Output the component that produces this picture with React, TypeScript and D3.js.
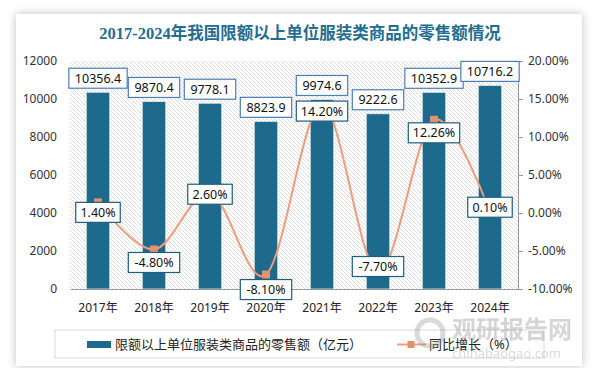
import React, { useEffect, useRef } from 'react';
import * as d3 from 'd3';

const years = ['2017年', '2018年', '2019年', '2020年', '2021年', '2022年', '2023年', '2024年'];
const sales = [10356.4, 9870.4, 9778.1, 8823.9, 9974.6, 9222.6, 10352.9, 10716.2];
const growth = [1.4, -4.8, 2.6, -8.1, 14.2, -7.7, 12.26, 0.1];
const leftTicks = [0, 2000, 4000, 6000, 8000, 10000, 12000];
const rightTicks = [-10, -5, 0, 5, 10, 15, 20];

const title = '2017-2024年我国限额以上单位服装类商品的零售额情况';
const barName = '限额以上单位服装类商品的零售额（亿元）';
const lineName = '同比增长（%）';

// label offsets (px) for percent labels, relative to the marker
const pctDy = [10, 13, 1, 15, 6, -5, 13, -5];

const W = 596;
const H = 368;
const m = { left: 70, right: 518, top: 61, bottom: 289 };
const barColor = '#1d6a8c';
const lineColor = '#ee9d7c';
const font = '"Noto Sans", "Noto Sans CJK SC", sans-serif';

function App() {
  const svgRef = useRef<SVGSVGElement>(null);

  useEffect(() => {
    const svg = d3.select(svgRef.current);
    svg.selectAll('*').remove();

    const defs = svg.append('defs');
    const f = defs.append('filter').attr('id', 'shadow').attr('x', -0.1).attr('y', -0.1).attr('width', 1.2).attr('height', 1.2);
    f.append('feDropShadow').attr('dx', 0).attr('dy', 0).attr('stdDeviation', 5).attr('flood-color', '#000').attr('flood-opacity', 0.25);
    const pat = defs.append('pattern').attr('id', 'hatch').attr('patternUnits', 'userSpaceOnUse')
      .attr('width', 4).attr('height', 4);
    pat.append('rect').attr('width', 4).attr('height', 4).attr('fill', '#fff');
    pat.append('path').attr('d', 'M-1,-1 L5,5 M-1,3 L1,5 M3,-1 L5,1').attr('stroke', '#d6d6d6').attr('stroke-width', 0.8);

    // card
    svg.append('rect').attr('x', 16).attr('y', 14).attr('width', 566).attr('height', 352)
      .attr('fill', '#fff').attr('filter', 'url(#shadow)');

    svg.append('text').attr('x', 300).attr('y', 39).attr('text-anchor', 'middle')
      .attr('font-family', '"Liberation Serif", "Noto Sans CJK SC", serif').attr('font-weight', 'bold')
      .attr('font-size', 16.5).attr('fill', '#236d90').text(title);

    const x = d3.scaleBand().domain(years).range([m.left, m.right]).paddingInner(0.58).paddingOuter(0.29);
    const yL = d3.scaleLinear().domain([0, 12000]).range([m.bottom, m.top]);
    const yR = d3.scaleLinear().domain([-10, 20]).range([m.bottom, m.top]);

    svg.append('rect').attr('x', m.left).attr('y', m.top).attr('width', m.right - m.left)
      .attr('height', m.bottom - m.top).attr('fill', 'url(#hatch)');

    // left axis
    const gl = svg.append('g').attr('transform', `translate(${m.left},0)`)
      .call(d3.axisLeft(yL).tickValues(leftTicks).tickSize(0).tickPadding(13).tickFormat(d3.format('d')));
    gl.select('.domain').remove();
    gl.selectAll('text').attr('font-family', font).attr('font-size', 12).attr('fill', '#333');

    // right axis
    const gr = svg.append('g').attr('transform', `translate(${m.right},0)`)
      .call(d3.axisRight(yR).tickValues(rightTicks).tickSize(5).tickPadding(5)
        .tickFormat(d => (d as number).toFixed(2) + '%'));
    gr.select('.domain').attr('stroke', '#999');
    gr.selectAll('line').attr('stroke', '#999');
    gr.selectAll('text').attr('font-family', font).attr('font-size', 12).attr('fill', '#333');

    // bars
    svg.append('g').selectAll('rect').data(sales).join('rect')
      .attr('x', (d, i) => x(years[i])!)
      .attr('y', d => yL(d))
      .attr('width', x.bandwidth())
      .attr('height', d => m.bottom - yL(d))
      .attr('fill', barColor).attr('stroke', '#e8eef2').attr('stroke-width', 0.8);

    // bottom axis
    const gb = svg.append('g').attr('transform', `translate(0,${m.bottom})`)
      .call(d3.axisBottom(x).tickSize(0).tickPadding(14));
    gb.select('.domain').attr('stroke', '#999');
    gb.selectAll('text').attr('font-family', font).attr('font-size', 12).attr('fill', '#222');

    const cx = (i: number) => x(years[i])! + x.bandwidth() / 2;

    // line
    const ln = d3.line<number>().x((d, i) => cx(i)).y(d => yR(d)).curve(d3.curveCatmullRom.alpha(0));
    svg.append('path').datum(growth).attr('d', ln).attr('fill', 'none')
      .attr('stroke', lineColor).attr('stroke-width', 2);
    svg.append('g').selectAll('rect').data(growth).join('rect')
      .attr('x', (d, i) => cx(i) - 4).attr('y', d => yR(d) - 4)
      .attr('width', 8).attr('height', 8).attr('fill', '#de9270');

    const box = (g: d3.Selection<SVGGElement, unknown, null, undefined>, tx: number, ty: number, txt: string, stroke: string) => {
      const w = txt.length * 6.9 + 10;
      g.append('rect').attr('x', tx - w / 2).attr('y', ty - 10).attr('width', w).attr('height', 20)
        .attr('fill', '#fff').attr('stroke', stroke).attr('stroke-width', 1.2);
      g.append('text').attr('x', tx).attr('y', ty + 4.5).attr('text-anchor', 'middle')
        .attr('font-family', font).attr('font-size', 12.5).attr('fill', '#111').text(txt);
    };

    const lab = svg.append('g');
    sales.forEach((d, i) => box(lab, cx(i), yL(d) - 14, d.toFixed(1), '#4a7fb5'));
    growth.forEach((d, i) => box(lab, cx(i), yR(d) + pctDy[i], d.toFixed(2) + '%', '#1e5f80'));

    // legend
    svg.append('rect').attr('x', 55).attr('y', 330).attr('width', 489).attr('height', 28)
      .attr('fill', '#fff').attr('stroke', '#d9d9d9');
    svg.append('rect').attr('x', 87).attr('y', 341).attr('width', 24).attr('height', 7).attr('fill', barColor);
    svg.append('text').attr('x', 115).attr('y', 349).attr('font-family', font).attr('font-size', 13)
      .attr('fill', '#222').text(barName);
    svg.append('line').attr('x1', 397).attr('x2', 426).attr('y1', 344.5).attr('y2', 344.5)
      .attr('stroke', lineColor).attr('stroke-width', 2);
    svg.append('rect').attr('x', 407.5).attr('y', 341).attr('width', 7).attr('height', 7).attr('fill', '#de9270');
    svg.append('text').attr('x', 429).attr('y', 349).attr('font-family', font).attr('font-size', 13)
      .attr('fill', '#222').text(lineName);

    // watermark
    const wm = svg.append('g').attr('opacity', 0.3);
    wm.append('circle').attr('cx', 430).attr('cy', 333).attr('r', 13).attr('fill', 'none')
      .attr('stroke', '#888').attr('stroke-width', 5);
    wm.append('text').attr('x', 452).attr('y', 338).attr('font-family', '"Noto Sans CJK SC", sans-serif')
      .attr('font-weight', 'bold').attr('font-size', 24).attr('fill', '#777').text('观研报告网');
    wm.append('text').attr('x', 452).attr('y', 358).attr('font-family', font)
      .attr('font-size', 13).attr('fill', '#888').text('chinabaogao.com');
  }, []);

  return (
    <svg ref={svgRef} width={W} height={H} style={{ position: 'absolute', left: 0, top: 0 }} />
  );
}

export default App;
